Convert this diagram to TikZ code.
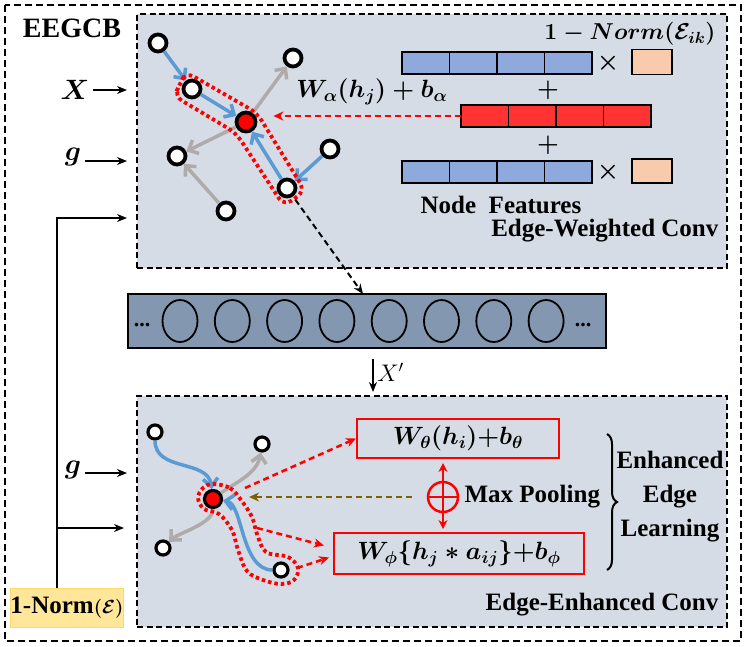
\RequirePackage{fix-cm}
\documentclass[tikz,border=0pt]{standalone}
\usepackage{amsmath}
\usepackage{fontspec}
\setmainfont{Liberation Serif}
\usetikzlibrary{arrows.meta, positioning, shapes.geometric, decorations.pathreplacing}

\definecolor{panelgray}{HTML}{D6DCE5}
\definecolor{barblue}{HTML}{8497B0}
\definecolor{edgeblue}{HTML}{5B9BD5}
\definecolor{edgegray}{HTML}{AFABAB}
\definecolor{featblue}{HTML}{8EA9DB}
\definecolor{featred}{HTML}{FF3333}
\definecolor{weightorange}{HTML}{F8CBAD}
\definecolor{normyellow}{HTML}{FFE699}
\definecolor{normborder}{HTML}{FFD966}
\definecolor{poolbrown}{HTML}{7F6000}

\begin{document}
\begin{tikzpicture}[x=1pt, y=-1pt, line width=1.2pt,
    font=\fontsize{25}{30}\selectfont\bfseries\boldmath,
    panel/.style={draw, fill=panelgray, line width=2pt, dash pattern=on 6pt off 3.5pt, inner sep=0pt, minimum width=590pt},
    gnode/.style={circle, draw, fill=white, line width=3.8pt, minimum size=17pt, inner sep=0pt},
    snode/.style={gnode, line width=3.2pt, minimum size=14pt},
    bedge/.style={edgeblue, line width=3.5pt, -{Straight Barb[length=8pt, width=15pt]}},
    gedge/.style={edgegray, line width=3.5pt, -{Straight Barb[length=8pt, width=15pt]}},
    hull/.style={red, line width=3.8pt, dash pattern=on 3.5pt off 3pt},
    rdash/.style={red, line width=2.5pt, dash pattern=on 6pt off 4pt, -{Stealth[length=10pt, width=9pt]}},
    cell/.style={draw, line width=1.8pt, minimum width=47.5pt, minimum height=22pt, inner sep=0pt, outer sep=0pt},
    unit/.style={ellipse, draw, line width=1.8pt, minimum width=35pt, minimum height=42pt, inner sep=0pt},
    inarrow/.style={-{Stealth[length=10pt, width=8pt]}, line width=2pt},
    formula/.style={draw=red, line width=2pt, inner sep=0pt}]

\useasboundingbox (0,0) rectangle (747,646);
\draw[line width=2.6pt, dash pattern=on 7pt off 4pt] (5,5) rectangle (741,641);
\node[anchor=west, font=\fontsize{28}{32}\selectfont\bfseries] (title) at (19,28) {EEGCB};

% edge-weighted conv
\node[panel, minimum height=254pt] (ewc) at (432,141) {};
\node[anchor=base east, inner sep=0pt] (ewclabel) at (719,236) {Edge-Weighted Conv};

\node[gnode] (n1) at (158,43) {};
\node[gnode] (n2) at (192,89) {};
\node[gnode, fill=red, minimum size=19pt] (ca) at (246,122) {};
\node[gnode] (n3) at (293,58) {};
\node[gnode] (n4) at (330,149) {};
\node[gnode] (n5) at (287,188) {};
\node[gnode] (n6) at (177,156) {};
\node[gnode] (n7) at (226,211) {};
\draw[gedge] (ca) -- (n3);
\draw[gedge] (ca) -- (n6);
\draw[gedge] (n7) -- (n6);
\draw[bedge] (n1) -- (n2);
\draw[bedge] (n2) -- (ca);
\draw[bedge] (n5) -- (ca);
\draw[bedge] (n4) -- (n5);
\draw[hull, rounded corners=9pt] (180,84) -- (186,72) -- (257,113) -- (305,191) -- (284,206) -- (236,133) -- (174,96) -- cycle;

\node[cell, fill=featblue, anchor=west] (a1) at (402,63) {};
\foreach \i [count=\j from 1] in {2,3,4}
  \node[cell, fill=featblue, right=0pt of a\j] (a\i) {};
\node[cell, fill=featred, anchor=west] (r1) at (461,116) {};
\foreach \i [count=\j from 1] in {2,3,4}
  \node[cell, fill=featred, right=0pt of r\j] (r\i) {};
\node[cell, fill=featblue, anchor=west] (b1) at (402,172) {};
\foreach \i [count=\j from 1] in {2,3,4}
  \node[cell, fill=featblue, right=0pt of b\j] (b\i) {};
\node (times1) at (608,63) {$\times$};
\node (times2) at (608,172) {$\times$};
\node[cell, fill=weightorange, minimum width=40pt, minimum height=25pt] (w1) at (652,62) {};
\node[cell, fill=weightorange, minimum width=40pt, minimum height=24pt] (w2) at (652,171) {};
\node (plus1) at (548,90) {$+$};
\node (plus2) at (548,145) {$+$};
\node (nf) at (501,205) {Node\ \ Features};
\node[anchor=east, inner sep=0pt, font=\fontsize{23}{28}\selectfont\bfseries\boldmath] (normlabel) at (716,34) {$1-Norm(\mathcal{E}_{ik})$};
\node (walpha) at (372,92) {$W_{\alpha}(h_j)+b_{\alpha}$};
\draw[rdash, shorten >=16pt] (r1.west) -- (ca.east |- r1.west);

% left inputs
\node (xin) at (75,90) {\fontsize{28}{32}\selectfont$X$};
\node (gin1) at (73,157) {\fontsize{28}{32}\selectfont$g$};
\node (gin2) at (73,470) {\fontsize{28}{32}\selectfont$g$};
\coordinate (gy1) at (0,161);
\coordinate (gy2) at (0,473);
\draw[inarrow, shorten >=9pt] (xin) -- (ewc.west |- xin);
\draw[inarrow, shorten >=9pt] (gin1.east |- gy1) -- (ewc.west |- gy1);
\draw[inarrow, shorten >=9pt] (gin2.east |- gy2) -- (ewc.west |- gy2);
\node[draw=normborder, fill=normyellow, line width=1pt, minimum width=110pt, minimum height=39pt, inner sep=0pt] (norm) at (67,607.5) {1-Norm{\fontsize{19}{20}\selectfont$(\mathcal{E})$}};
\coordinate (trunk) at (57,588);
\coordinate (topin) at (57,218);
\coordinate (branch) at (57,528);
\draw[inarrow, shorten >=9pt] (trunk) -- (topin) -- (ewc.west |- topin);
\draw[inarrow, shorten >=12pt] (branch) -- (ewc.west |- branch);

% node feature bar
\node[draw, fill=barblue, line width=2pt, minimum width=478pt, minimum height=54pt, inner sep=0pt] (bar) at (367,321) {};
\foreach \i in {1,...,8}
  \node[unit] (u\i) at ({180+52.3*(\i-1)},321) {};
\node[anchor=base, font=\fontsize{22}{22}\selectfont\bfseries] (ldots) at (142,326) {...};
\node[anchor=base, font=\fontsize{22}{22}\selectfont\bfseries] (rdots) at (583,326) {...};
\coordinate (barin) at (363,294);
\coordinate (xpx) at (373,0);
\draw[line width=2pt, dash pattern=on 6pt off 4pt, -{Stealth[length=10pt, width=8pt]}, shorten <=4pt] (n5) -- (barin);

% edge-enhanced conv
\node[panel, minimum height=231pt] (eec) at (432,511.5) {};
\draw[inarrow, shorten <=10pt, shorten >=3pt] (bar.south -| xpx) -- (eec.north -| xpx)
  node[midway, right, font=\fontsize{24}{28}\selectfont\unboldmath] {$X'$};
\node[anchor=base east, inner sep=0pt] (eeclabel) at (719,610) {Edge-Enhanced Conv};

\node[snode] (m1) at (155,432) {};
\node[snode] (m2) at (262,444) {};
\node[snode, fill=red, minimum size=17pt] (cb) at (213,499) {};
\node[snode] (m3) at (163,548) {};
\node[snode] (m4) at (281,570) {};
\draw[gedge] (cb) .. controls +(20,-15) and +(-5,30) .. (m2);
\draw[gedge] (cb) .. controls +(0,25) and +(15,-15) .. (m3);
\draw[bedge] (m1) .. controls +(0,40) and +(-5,-40) .. (cb);
\draw[bedge] (m4) .. controls +(-40,0) and +(30,5) .. (cb);
\draw[hull] plot[smooth cycle, tension=0.6] coordinates {(213,484) (230,488) (241,500) (252,517) (257,534) (266,552) (288,557) (298,568) (294,580) (281,584) (263,580) (247,571) (238,550) (232,530) (219,514) (204,509) (198,498) (203,488)};

\node[formula, minimum width=202pt, minimum height=39pt] (wt) at (458,438.5) {$W_{\theta}(h_i){+}b_{\theta}$};
\node[formula, minimum width=250pt, minimum height=41pt] (wp) at (459,553.5) {$W_{\phi}\{h_j * a_{ij}\}{+}b_{\phi}$};
\node[circle, draw=red, line width=2.5pt, minimum size=30pt, inner sep=0pt] (oplus) at (443,497) {};
\draw[red, line width=2.5pt] (oplus.north) -- (oplus.south) (oplus.west) -- (oplus.east);
\draw[red, line width=2.5pt, {Stealth[length=9pt, width=9pt]}-{Stealth[length=9pt, width=9pt]}, shorten <=4pt, shorten >=3pt] (wt.south -| oplus) -- (wp.north -| oplus);
\node[anchor=west, inner sep=0pt] (maxpool) at (464,497) {Max Pooling};
\draw[poolbrown, line width=2.5pt, dash pattern=on 6pt off 4pt, -{Stealth[length=10pt, width=9pt]}, shorten <=15pt, shorten >=26pt] (oplus.west) -- (cb.east |- oplus.west);
\draw[rdash] ([shift={(32,-11)}]cb.center) -- (wt.west);
\draw[rdash] ([shift={(44,29)}]cb.center) -- ([shift={(-9,-8)}]wp.west);
\draw[rdash] ([shift={(16,-2)}]m4.center) -- ([shift={(-4,4)}]wp.west);

\draw[decorate, decoration={brace, amplitude=10pt}, line width=2pt] (607,434) -- (607,570);
\node[align=center, inner sep=0pt, font=\fontsize{25}{34}\selectfont\bfseries] (eel) at (670,497) {Enhanced\\Edge\\Learning};
\end{tikzpicture}
\end{document}
